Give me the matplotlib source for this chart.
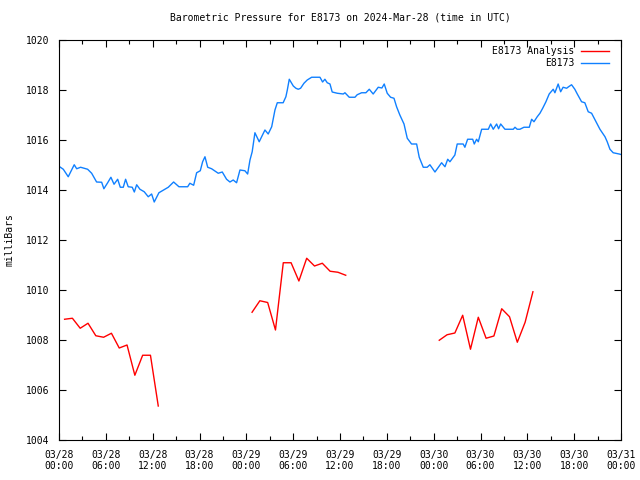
import numpy as np
import matplotlib
matplotlib.use('Agg')
import matplotlib.pyplot as plt
import matplotlib.dates as mdates

plt.rc('font', family='DejaVu Sans Mono', size=7)
plt.rc('axes', titlesize=7, labelsize=7)

START = np.datetime64('2024-03-28T00:00')

# station observations (hours after 03/28 00:00, millibars)
obs_hours = [
    0.09, 0.55, 1.19, 1.96, 2.27, 2.78, 3.68, 4.19, 4.83, 5.47, 5.76, 6.24, 6.66, 7.05,
    7.52, 7.85, 8.24, 8.54, 8.88, 9.39, 9.65, 9.95, 10.38, 10.93, 11.44, 11.88, 12.21,
    12.81, 13.58, 14.00, 14.69, 15.37, 16.49, 16.78, 17.26, 17.64, 18.10, 18.41, 18.70,
    19.05, 19.56, 20.41, 20.92, 21.48, 21.91, 22.33, 22.76, 23.19, 23.83, 24.17, 24.47,
    24.76, 25.11, 25.66, 26.39, 26.81, 27.25, 27.67, 27.97, 28.73, 29.08, 29.25, 29.50,
    30.02, 30.36, 30.66, 30.96, 31.39, 31.81, 32.37, 33.44, 33.78, 34.08, 34.37, 34.72,
    35.01, 35.65, 36.42, 36.64, 37.19, 37.92, 38.21, 38.78, 39.33, 39.75, 40.26, 40.90,
    41.38, 41.67, 42.06, 42.49, 42.92, 43.26, 43.68, 44.20, 44.62, 45.18, 45.82, 46.16,
    46.67, 47.18, 47.53, 48.17, 49.03, 49.45, 49.80, 50.09, 50.73, 51.03, 51.79, 52.01,
    52.36, 53.00, 53.20, 53.51, 53.72, 54.15, 55.00, 55.30, 55.64, 56.07, 56.33, 56.59,
    57.14, 58.20, 58.42, 58.71, 59.06, 59.57, 60.25, 60.56, 60.85, 61.27, 61.62, 61.97,
    62.39, 62.81, 63.32, 63.54, 63.96, 64.27, 64.60, 65.04, 65.29, 65.68, 66.10, 66.40,
    66.96, 67.38, 67.81, 68.24, 68.88, 69.31, 69.95, 70.24, 70.59, 71.01, 71.78, 72.00]
obs_press = [
    1014.93, 1014.83, 1014.53, 1015.01, 1014.85, 1014.91, 1014.83, 1014.67, 1014.32,
    1014.31, 1014.05, 1014.29, 1014.51, 1014.23, 1014.43, 1014.11, 1014.11, 1014.43,
    1014.13, 1014.11, 1013.92, 1014.21, 1014.03, 1013.93, 1013.73, 1013.84, 1013.52,
    1013.89, 1014.03, 1014.11, 1014.32, 1014.13, 1014.13, 1014.27, 1014.19, 1014.69,
    1014.77, 1015.13, 1015.33, 1014.91, 1014.85, 1014.67, 1014.72, 1014.43, 1014.32,
    1014.40, 1014.29, 1014.80, 1014.77, 1014.64, 1015.20, 1015.53, 1016.29, 1015.93,
    1016.40, 1016.24, 1016.53, 1017.20, 1017.49, 1017.49, 1017.73, 1018.00, 1018.43,
    1018.16, 1018.07, 1018.03, 1018.07, 1018.27, 1018.40, 1018.51, 1018.51, 1018.32,
    1018.43, 1018.29, 1018.24, 1017.92, 1017.87, 1017.84, 1017.89, 1017.71, 1017.71,
    1017.81, 1017.89, 1017.89, 1018.03, 1017.84, 1018.11, 1018.08, 1018.24, 1017.87,
    1017.71, 1017.67, 1017.33, 1017.00, 1016.64, 1016.07, 1015.84, 1015.84, 1015.31,
    1014.91, 1014.91, 1015.01, 1014.72, 1015.09, 1014.93, 1015.23, 1015.13, 1015.40,
    1015.84, 1015.84, 1015.71, 1016.03, 1016.03, 1015.84, 1016.03, 1015.93, 1016.43,
    1016.43, 1016.64, 1016.43, 1016.64, 1016.45, 1016.64, 1016.43, 1016.43, 1016.51,
    1016.43, 1016.43, 1016.51, 1016.51, 1016.83, 1016.73, 1016.93, 1017.07, 1017.27,
    1017.53, 1017.84, 1018.03, 1017.89, 1018.24, 1017.93, 1018.11, 1018.07, 1018.13,
    1018.21, 1018.03, 1017.84, 1017.53, 1017.49, 1017.13, 1017.07, 1016.69, 1016.43,
    1016.13, 1015.93, 1015.63, 1015.49, 1015.44, 1015.42]

# analysis runs, hourly from the first hour of each segment
ana_start_hours = [0.72, 24.74, 48.72]
ana_seg1 = [1008.83, 1008.87, 1008.47, 1008.67, 1008.17, 1008.11, 1008.27,
            1007.68, 1007.80, 1006.59, 1007.39, 1007.39, 1005.36]
ana_seg2 = [1009.11, 1009.57, 1009.50, 1008.40, 1011.09, 1011.09, 1010.36,
            1011.27, 1010.96, 1011.07, 1010.75, 1010.71, 1010.59]
ana_seg3 = [1007.99, 1008.21, 1008.28, 1008.99, 1007.63, 1008.91, 1008.07,
            1008.16, 1009.25, 1008.93, 1007.91, 1008.71, 1009.93]


def to_time(hours):
    return START + (np.asarray(hours) * 60).astype('timedelta64[m]')


fig = plt.figure(figsize=[6.4, 4.8], dpi=100)
ax = fig.add_axes([59/640, 40/480, 562/640, 400/480])

for i, seg in enumerate([ana_seg1, ana_seg2, ana_seg3]):
    hrs = ana_start_hours[i] + np.arange(len(seg))
    ax.plot(to_time(hrs), seg, color='#ff0000', linewidth=1,
            label='E8173 Analysis' if i == 0 else None)
ax.plot(to_time(obs_hours), obs_press, color='#1080ff', linewidth=1, label='E8173')

ax.set_xlim(to_time(0), to_time(72))
ax.set_ylim(1004, 1020)
ax.set_yticks(np.arange(1004, 1021, 2))
ax.xaxis.set_major_locator(mdates.HourLocator(byhour=[0, 6, 12, 18]))
ax.xaxis.set_minor_locator(mdates.HourLocator(byhour=[3, 9, 15, 21]))
ax.xaxis.set_major_formatter(mdates.DateFormatter('%m/%d\n%H:%M'))
ax.tick_params(which='both', direction='in', top=True, right=True, width=0.8)
ax.tick_params(which='major', length=5, pad=7)
ax.tick_params(which='minor', length=3)
for s in ax.spines.values():
    s.set_linewidth(0.8)

ax.set_ylabel('milliBars', labelpad=8)
ax.set_title('Barometric Pressure for E8173 on 2024-Mar-28 (time in UTC)', pad=14)
ax.legend(loc='upper right', bbox_to_anchor=(1 - 12/562, 1 - 6/400), frameon=False,
          markerfirst=False, handlelength=2.9, borderaxespad=0, borderpad=0,
          labelspacing=0.25, handletextpad=0.65)

plt.savefig('out.png', dpi=100)
